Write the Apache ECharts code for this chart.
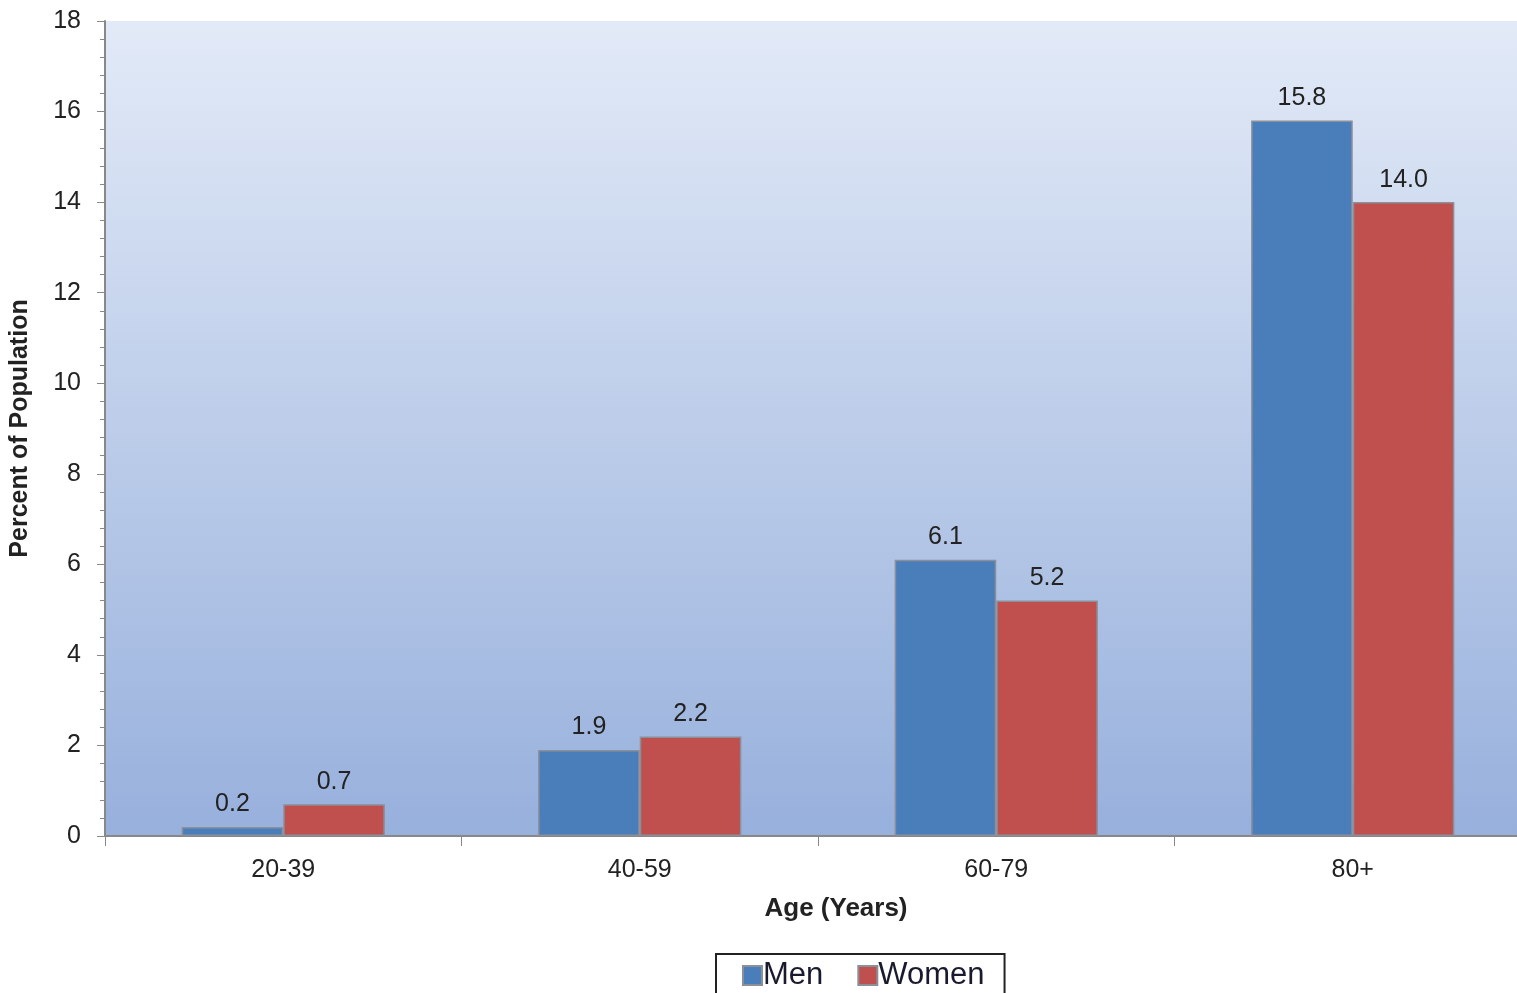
<!DOCTYPE html>
<html>
<head>
<meta charset="utf-8">
<script src="https://cdn.jsdelivr.net/npm/echarts@6/dist/echarts.min.js"></script>
<style>html,body{margin:0;padding:0;background:#fff;overflow:hidden}#c{width:1531px;height:993px}</style>
</head>
<body>
<div id="c"></div>
<script>
var categories = ["20-39", "40-59", "60-79", "80+"];
var menValues = [0.2, 1.9, 6.1, 15.8];
var womenValues = [0.7, 2.2, 5.2, 14.0];
var yTicks = [0, 2, 4, 6, 8, 10, 12, 14, 16, 18];

var chart = echarts.init(document.getElementById("c"));
var font = "Liberation Sans, Arial, sans-serif";
var lbl = {show: true, position: "top", color: "#222", fontSize: 25, fontFamily: font, distance: 10,
    formatter: function (p) { return p.value.toFixed(1); }};

chart.setOption({
    animation: false,
    grid: {left: 105, right: 0, top: 21, bottom: 157, show: true, borderWidth: 0,
        backgroundColor: new echarts.graphic.LinearGradient(0, 0, 0, 1, [
            {offset: 0, color: "#e2eaf7"}, {offset: 1, color: "#97b0dc"}])},
    legend: {
        bottom: -8, left: 716, data: ["Men", "Women"],
        itemWidth: 19, itemHeight: 19, itemGap: 34,
        borderColor: "#222", borderWidth: 2, padding: [6, 20, 10, 26],
        textStyle: {fontSize: 31, fontFamily: font, color: "#1a1a2e", padding: [0, 0, 0, -4]},
        icon: "rect"
    },
    xAxis: {
        type: "category", data: categories,
        name: "Age (Years)", nameLocation: "middle", nameGap: 60,
        nameTextStyle: {fontSize: 26, fontWeight: "bold", fontFamily: font, color: "#222", padding: [0, 0, 0, 36]},
        axisLine: {lineStyle: {color: "#888", width: 2}},
        axisTick: {show: true, length: 10, lineStyle: {color: "#888"}},
        axisLabel: {fontSize: 25, fontFamily: font, color: "#222", margin: 22}
    },
    yAxis: {
        type: "value", min: 0, max: 18, interval: 2,
        name: "Percent of Population", nameLocation: "middle", nameGap: 72, nameRotate: 90,
        nameTextStyle: {fontSize: 25, fontWeight: "bold", fontFamily: font, color: "#222"},
        axisLine: {show: true, lineStyle: {color: "#888", width: 2}},
        axisTick: {show: true, inside: false, length: 8, lineStyle: {color: "#888"}},
        minorTick: {show: true, splitNumber: 5, length: 5, lineStyle: {color: "#888"}},
        splitLine: {show: false},
        axisLabel: {fontSize: 25, fontFamily: font, color: "#222", margin: 24,
            formatter: function (v) { return yTicks.indexOf(v) >= 0 ? String(v) : ""; }}
    },
    series: [
        {name: "Men", type: "bar", data: menValues, barGap: "0%", barCategoryGap: "43%",
            itemStyle: {color: "#4a7ebb", borderColor: "#8a8f99", borderWidth: 1.5}, label: lbl},
        {name: "Women", type: "bar", data: womenValues,
            itemStyle: {color: "#c0504d", borderColor: "#8a8f99", borderWidth: 1.5}, label: lbl}
    ]
});
</script>
</body>
</html>
